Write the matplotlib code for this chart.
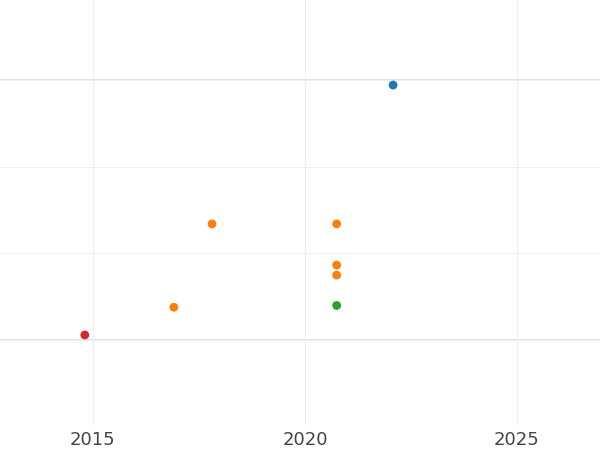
import matplotlib
matplotlib.use("Agg")
import matplotlib.pyplot as plt

years = [2014.81, 2016.91, 2017.81, 2020.75, 2020.75, 2020.75, 2020.75, 2022.08]
values = [0.06, 0.38, 1.34, 1.34, 0.865, 0.75, 0.40, 2.94]
colors = ['#d62728', '#ff7f0e', '#ff7f0e', '#ff7f0e', '#ff7f0e', '#ff7f0e', '#2ca02c', '#1f77b4']

fig = plt.figure(figsize=(6, 4.5), dpi=100)
ax = fig.add_axes([0, 0.055, 1, 0.945])
ax.scatter(years, values, c=colors, s=40, zorder=3, edgecolors='none')
ax.set_xlim(2012.81, 2026.96)
ax.set_ylim(-0.98, 3.92)
ax.set_xticks([2015, 2020, 2025])
ax.set_yticks([0, 1, 2, 3])
ax.set_yticklabels([])
ax.grid(True, color='#efefef', linewidth=0.8)
for y in (0, 3):
    ax.axhline(y, color='#dcdcdc', linewidth=1.2, zorder=1)
ax.tick_params(length=0, labelsize=13, labelcolor='#444444', pad=4)
for s in ax.spines.values():
    s.set_visible(False)
fig.savefig("out.png")
